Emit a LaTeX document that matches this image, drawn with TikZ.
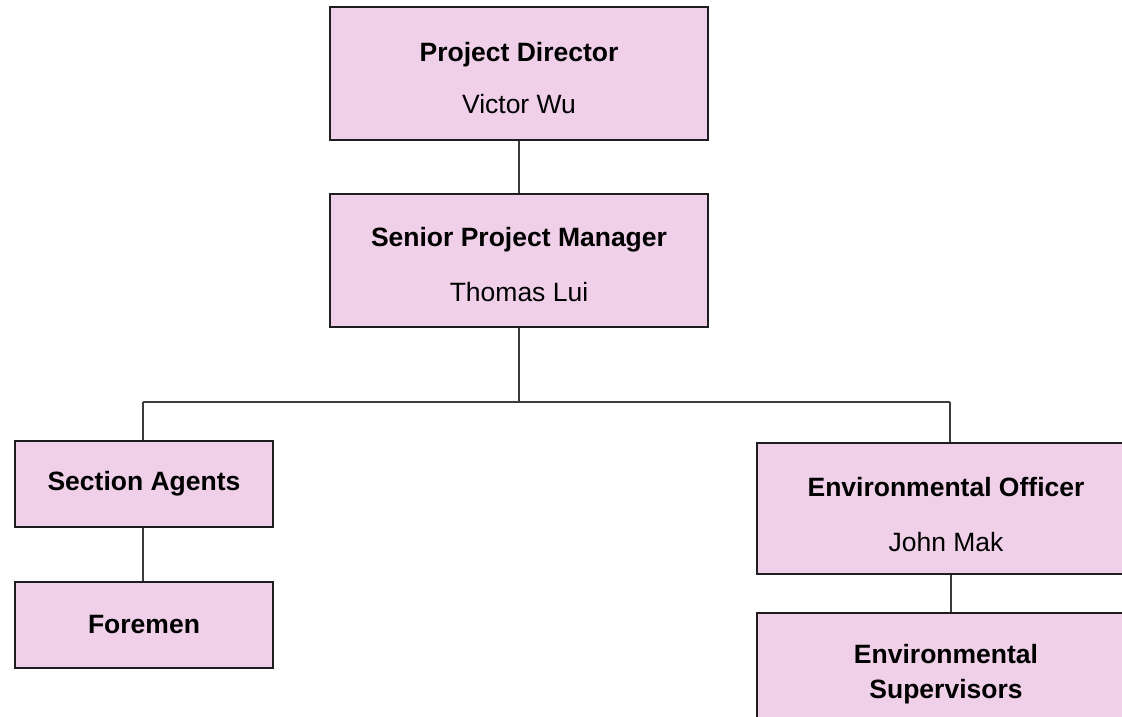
\documentclass[tikz,border=0pt]{standalone}
\usepackage{fontspec}
\setmainfont{Liberation Sans}
\definecolor{boxfill}{RGB}{239,208,232}
\definecolor{boxline}{RGB}{30,30,30}
\definecolor{conn}{RGB}{60,60,60}
\begin{document}
\begin{tikzpicture}[x=1pt,y=-1pt,
  orgbox/.style={draw=boxline,fill=boxfill,line width=1.8pt,inner sep=0pt,align=center,
    font=\fontsize{26.5}{32}\selectfont},
  wide/.style={minimum width=378pt,minimum height=133pt},
  narrow/.style={minimum width=258pt,minimum height=86pt},
  cutbox/.style={minimum width=400pt,minimum height=131pt},
  txt/.style={inner sep=0pt,align=center},
  link/.style={draw=conn,line width=1.3pt}]
\clip (0,0) rectangle (1122,717);
% boxes
\node[orgbox,wide] (pd) at (519,73.5) {};
\node[orgbox,wide] (spm) at (519,260.5) {};
\node[orgbox,narrow] (sa) at (144,484) {\textbf{Section Agents}};
\node[orgbox,narrow] (fm) at (144,625) {\textbf{Foremen}};
\node[orgbox,cutbox] (eo) at (957,508.5) {};
\node[orgbox,cutbox] (es) at (957,678.5) {};
% texts
\node[txt,font=\fontsize{26.5}{52}\selectfont] (pdt) at (519,78.5) {\textbf{Project Director}\\Victor Wu};
\node[txt,font=\fontsize{26.5}{55}\selectfont] (spmt) at (519,265) {\textbf{Senior Project Manager}\\Thomas Lui};
\node[txt,font=\fontsize{26.5}{55}\selectfont] (eot) at (946,515) {\textbf{Environmental Officer}\\John Mak};
\node[txt,font=\fontsize{26.5}{35}\selectfont] (est) at (946,674.5) {\textbf{Environmental}\\\textbf{Supervisors}};
% connectors
\coordinate (bus) at (519,402);
\coordinate (busl) at (143,402);
\coordinate (busr) at (950,402);
\coordinate (envcol) at (951,402);
\draw[link] (pd.south) -- (spm.north);
\draw[link] (spm.south) -- (bus);
\draw[link] (busl) -- (busr);
\draw[link] (busl) -- (busl |- sa.north);
\draw[link] (busr) -- (busr |- eo.north);
\draw[link] (sa.south -| busl) -- (fm.north -| busl);
\draw[link] (eo.south -| envcol) -- (es.north -| envcol);
\end{tikzpicture}
\end{document}
